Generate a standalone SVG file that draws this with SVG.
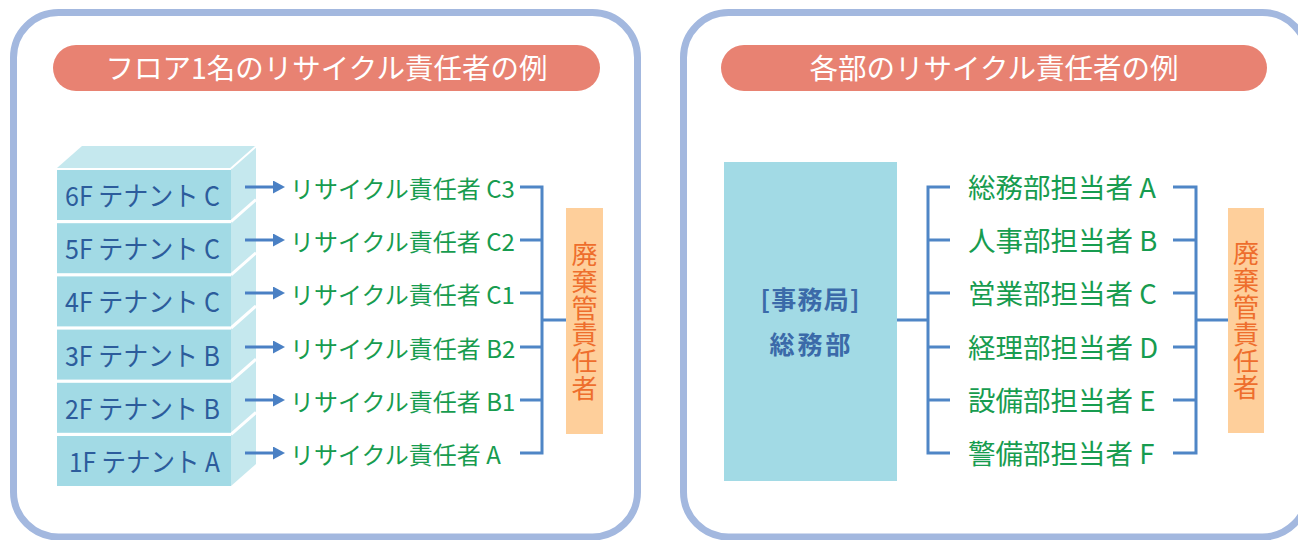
<svg xmlns="http://www.w3.org/2000/svg" width="1298" height="540" viewBox="0 0 1298 540">
<style>
.panel{fill:#ffffff;stroke:#a3b8df;stroke-width:7}
.pill{fill:#e88272}
.title{font-family:"Noto Sans CJK JP","Noto Sans",sans-serif;font-size:28.5px;fill:#ffffff;text-anchor:middle}
.front{fill:#a2dae5}
.light{fill:#c5e8ee}
.sep{stroke:#ffffff;stroke-width:3;fill:none}
.floor{font-family:"Noto Sans CJK JP","Noto Sans",sans-serif;font-size:27px;fill:#2c5c9c;text-anchor:middle}
.green{font-family:"Noto Sans CJK JP","Noto Sans",sans-serif;fill:#179c4f}
.g1{font-size:24px}
.g2{font-size:27.5px}
.line{stroke:#4f86c6;stroke-width:3;fill:none}
.orange{fill:#fecf9b}
.vt{font-family:"Noto Sans CJK JP","Noto Sans",sans-serif;font-size:26px;fill:#ee6e2d;text-anchor:middle;writing-mode:vertical-rl;letter-spacing:0.8px}
.boxt{font-family:"Noto Sans CJK JP","Noto Sans",sans-serif;font-size:25px;font-weight:bold;fill:#3b6aa9;text-anchor:middle}
</style>
<defs>
<marker id="ah" markerWidth="12" markerHeight="13" refX="0" refY="6.5" orient="auto" markerUnits="userSpaceOnUse">
<path d="M0,0 L12,6.5 L0,13 z" fill="#4a80c4"/>
</marker>
</defs>

<g id="panel-left">
<rect class="panel" x="13.5" y="12.5" width="624" height="524.5" rx="45" ry="45"/>
<rect class="pill" x="53" y="45" width="547" height="46" rx="23" ry="23"/>
<text class="title" x="326.5" y="79">フロア1名のリサイクル責任者の例</text>
</g>

<g id="panel-right">
<rect class="panel" x="683.5" y="12.5" width="624" height="524.5" rx="45" ry="45"/>
<rect class="pill" x="721" y="45" width="546" height="46" rx="23" ry="23"/>
<text class="title" x="994" y="79">各部のリサイクル責任者の例</text>
</g>

<g id="building">
<polygon class="light" points="57,168 82,146 256,146 231,168"/>
<polygon class="light" points="231,168 256,146 256,464 231,486"/>
<line class="sep" x1="231" y1="168.5" x2="256" y2="146.5" style="stroke-width:2"/>
<line class="sep" x1="231" y1="221.6" x2="256" y2="199.6"/>
<line class="sep" x1="231" y1="274.8" x2="256" y2="252.8"/>
<line class="sep" x1="231" y1="328" x2="256" y2="306"/>
<line class="sep" x1="231" y1="381.2" x2="256" y2="359.2"/>
<line class="sep" x1="231" y1="434.4" x2="256" y2="412.4"/>
</g>

<g id="floor-6F"><rect class="front" x="57" y="170" width="174" height="50"/><text class="floor" x="142.5" y="206" textLength="155" lengthAdjust="spacingAndGlyphs">6F テナント C</text></g>
<g id="floor-5F"><rect class="front" x="57" y="223.2" width="174" height="50"/><text class="floor" x="142.5" y="259.2" textLength="155" lengthAdjust="spacingAndGlyphs">5F テナント C</text></g>
<g id="floor-4F"><rect class="front" x="57" y="276.4" width="174" height="50"/><text class="floor" x="142.5" y="312.4" textLength="155" lengthAdjust="spacingAndGlyphs">4F テナント C</text></g>
<g id="floor-3F"><rect class="front" x="57" y="329.6" width="174" height="50"/><text class="floor" x="142.5" y="365.6" textLength="155" lengthAdjust="spacingAndGlyphs">3F テナント B</text></g>
<g id="floor-2F"><rect class="front" x="57" y="382.8" width="174" height="50"/><text class="floor" x="142.5" y="418.8" textLength="155" lengthAdjust="spacingAndGlyphs">2F テナント B</text></g>
<g id="floor-1F"><rect class="front" x="57" y="436" width="174" height="50"/><text class="floor" x="144.5" y="472" textLength="151" lengthAdjust="spacingAndGlyphs">1F テナント A</text></g>

<g id="recycle-C3"><text class="green g1" x="290" y="198">リサイクル責任者 C3</text></g>
<g id="recycle-C2"><text class="green g1" x="290" y="251">リサイクル責任者 C2</text></g>
<g id="recycle-C1"><text class="green g1" x="290" y="304">リサイクル責任者 C1</text></g>
<g id="recycle-B2"><text class="green g1" x="290" y="358">リサイクル責任者 B2</text></g>
<g id="recycle-B1"><text class="green g1" x="290" y="411">リサイクル責任者 B1</text></g>
<g id="recycle-A"><text class="green g1" x="290" y="464">リサイクル責任者 A</text></g>

<g id="waste-manager-left">
<rect class="orange" x="566" y="208" width="37" height="226"/>
<text class="vt" x="584.5" y="321.5">廃棄管責任者</text>
</g>

<g id="secretariat">
<rect class="front" x="724" y="162" width="173" height="319"/>
<text class="boxt" x="810" y="309" textLength="99" lengthAdjust="spacing">[事務局]</text>
<text class="boxt" x="810" y="354" textLength="81" lengthAdjust="spacing">総務部</text>
</g>

<g id="dept-A"><text class="green g2" x="968" y="198">総務部担当者 A</text></g>
<g id="dept-B"><text class="green g2" x="968" y="251">人事部担当者 B</text></g>
<g id="dept-C"><text class="green g2" x="968" y="304">営業部担当者 C</text></g>
<g id="dept-D"><text class="green g2" x="968" y="358">経理部担当者 D</text></g>
<g id="dept-E"><text class="green g2" x="968" y="411">設備部担当者 E</text></g>
<g id="dept-F"><text class="green g2" x="968" y="464">警備部担当者 F</text></g>

<g id="waste-manager-right">
<rect class="orange" x="1228" y="208" width="36" height="225"/>
<text class="vt" x="1246" y="321">廃棄管責任者</text>
</g>

<g id="connectors">
<g stroke="#4a80c4" stroke-width="3" marker-end="url(#ah)">
<line x1="245" y1="187" x2="273" y2="187"/>
<line x1="245" y1="240" x2="273" y2="240"/>
<line x1="245" y1="293" x2="273" y2="293"/>
<line x1="245" y1="347" x2="273" y2="347"/>
<line x1="245" y1="400" x2="273" y2="400"/>
<line x1="245" y1="453" x2="273" y2="453"/>
</g>
<path class="line" d="M520,187 H542 V453 H520 M520,240 H542 M520,293 H542 M520,347 H542 M520,400 H542 M542,320 H566"/>
<path class="line" d="M897,320 H928 M950,187 H928 V453 H950 M928,240 H950 M928,293 H950 M928,347 H950 M928,400 H950"/>
<path class="line" d="M1173,187 H1196 V453 H1173 M1173,240 H1196 M1173,293 H1196 M1173,347 H1196 M1173,400 H1196 M1196,320 H1228"/>
</g>
</svg>
